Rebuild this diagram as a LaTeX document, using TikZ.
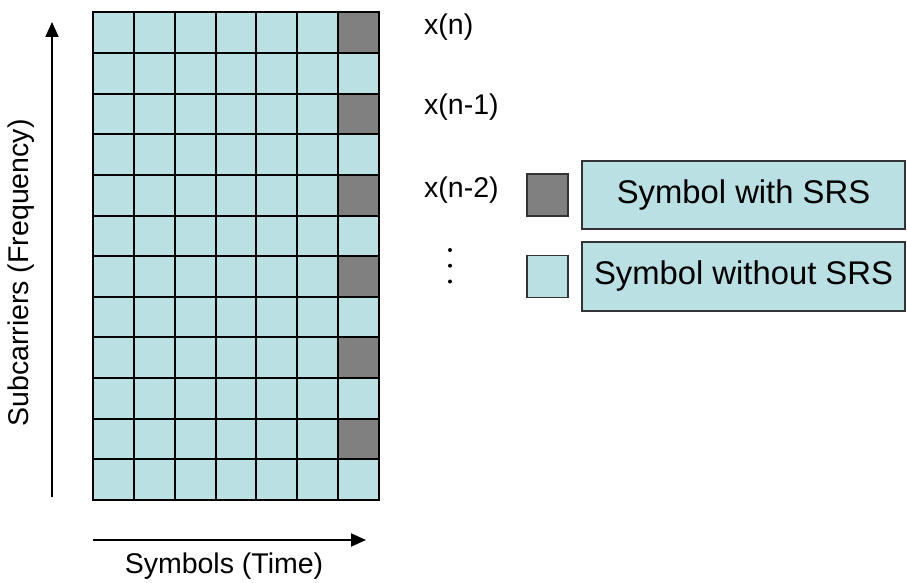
\documentclass[tikz,border=0pt]{standalone}
\usepackage{fontspec}
\setmainfont{Liberation Sans}
\usetikzlibrary{arrows.meta}
\definecolor{cellblue}{HTML}{BAE0E3}
\definecolor{srsgray}{HTML}{808080}
\definecolor{boxline}{HTML}{333333}
\tikzset{
  cell/.style={draw=black, line width=2pt, minimum width=40.86pt, minimum height=40.6pt,
    inner sep=0pt, outer sep=0pt, fill=cellblue},
  srscell/.style={cell, fill=srsgray},
  lbl/.style={font=\fontsize{28.5}{33}\selectfont, inner sep=0pt},
  leglbl/.style={font=\fontsize{32.8}{38}\selectfont, inner sep=0pt},
  legsq/.style={draw=boxline, line width=1.5pt, minimum width=41pt, minimum height=42pt, inner sep=0pt},
  legbox/.style={draw=boxline, line width=1.5pt, inner sep=0pt},
  axis/.style={line width=2pt, -{Triangle[length=15pt,width=13pt]}},
  dotmark/.style={circle, fill=black, inner sep=0pt, minimum size=4pt}
}
\begin{document}
\begin{tikzpicture}[x=1pt,y=-1pt]
\useasboundingbox (0,0) rectangle (907,583);
% grid
\foreach \r in {1,...,12}{
  \foreach \c in {1,...,7}{
    \pgfmathsetmacro{\cx}{93+40.86*(\c-0.5)}
    \pgfmathsetmacro{\cy}{12.5+40.6*(\r-0.5)}
    \pgfmathtruncatemacro{\isodd}{mod(\r,2)}
    \ifnum\c=7 \ifnum\isodd=1
      \node[srscell] (c-\r-\c) at (\cx,\cy) {};
    \else
      \node[cell] (c-\r-\c) at (\cx,\cy) {};
    \fi
    \else
      \node[cell] (c-\r-\c) at (\cx,\cy) {};
    \fi
  }
}
% axes
\coordinate (fstart) at (52,497);
\coordinate (fend) at (52,22);
\draw[axis] (fstart) -- (fend);
\node[lbl, rotate=90] (flabel) at (21,273) {Subcarriers (Frequency)};
\coordinate (tstart) at (93,540);
\coordinate (tend) at (366,540);
\draw[axis] (tstart) -- (tend);
\node[lbl] (tlabel) at (224,566) {Symbols (Time)};
% row labels
\node[lbl, anchor=west] (xn) at (424,27) {x(n)};
\node[lbl, anchor=west] (xn1) at (424,107) {x(n-1)};
\node[lbl, anchor=west] (xn2) at (424,190) {x(n-2)};
\node[dotmark] (dot1) at (450,250) {};
\node[dotmark] (dot2) at (450,265.7) {};
\node[dotmark] (dot3) at (450,281.5) {};
% legend
\node[legsq, fill=srsgray] (lgray) at (547.5,195) {};
\node[legsq, fill=cellblue] (lblue) at (547.5,276.5) {};
\node[legbox, fill=cellblue, minimum width=323pt, minimum height=68pt] (bwith) at (743.5,195) {};
\node[leglbl] at (bwith.center) {Symbol with SRS};
\node[legbox, fill=cellblue, minimum width=323pt, minimum height=69pt] (bwithout) at (743.5,276.5) {};
\node[leglbl] at (bwithout.center) {Symbol without SRS};
\end{tikzpicture}
\end{document}
